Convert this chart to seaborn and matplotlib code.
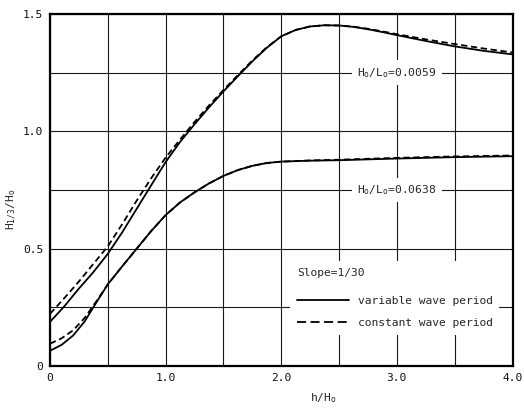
import matplotlib
matplotlib.use("Agg")
import matplotlib.pyplot as plt
from matplotlib.lines import Line2D
import seaborn as sns
import pandas as pd

# ---- data ----
h_upper = [0, .125, .25, .375, .5, .625, .75, .875, 1.0, 1.125, 1.25, 1.375, 1.5, 1.625,
           1.75, 1.875, 2.0, 2.125, 2.25, 2.375, 2.5, 2.625, 2.75, 2.875, 3.0, 3.25, 3.5, 3.75, 4.0]
var_0059 = [0.188, 0.255, 0.33, 0.40, 0.478, 0.57, 0.67, 0.77, 0.869, 0.955, 1.03, 1.102, 1.17, 1.235,
            1.298, 1.356, 1.405, 1.432, 1.447, 1.452, 1.451, 1.445, 1.435, 1.423, 1.41, 1.385, 1.362, 1.343, 1.328]
con_0059 = [0.222, 0.29, 0.36, 0.435, 0.51, 0.605, 0.705, 0.80, 0.888, 0.965, 1.04, 1.11, 1.176, 1.24,
            1.302, 1.358, 1.405, 1.432, 1.447, 1.452, 1.451, 1.446, 1.437, 1.426, 1.414, 1.392, 1.372, 1.353, 1.336]

h_lower = [0, .1, .2, .3, .4, .5, .625, .75, .875, 1.0, 1.125, 1.25, 1.375, 1.5, 1.625, 1.75,
           1.875, 2.0, 2.25, 2.5, 3.0, 3.5, 4.0]
var_0638 = [0.065, 0.09, 0.13, 0.19, 0.27, 0.348, 0.425, 0.50, 0.575, 0.643, 0.697, 0.74, 0.778, 0.81,
            0.835, 0.853, 0.865, 0.871, 0.875, 0.877, 0.884, 0.89, 0.894]
con_0638 = [0.095, 0.118, 0.152, 0.205, 0.275, 0.348, 0.425, 0.50, 0.575, 0.643, 0.697, 0.74, 0.778, 0.81,
            0.835, 0.853, 0.865, 0.871, 0.876, 0.879, 0.887, 0.893, 0.897]

x_ticks = [0, 1.0, 2.0, 3.0, 4.0]
x_tick_labels = ["0", "1.0", "2.0", "3.0", "4.0"]
y_ticks = [0, 0.5, 1.0, 1.5]
y_tick_labels = ["0", "0.5", "1.0", "1.5"]
curve_labels = ["H$_\\mathregular{o}$/L$_\\mathregular{o}$=0.0059", "H$_\\mathregular{o}$/L$_\\mathregular{o}$=0.0638"]
legend_labels = ["variable wave period", "constant wave period"]
legend_title = "Slope=1/30"

frames = []
for h, v, c, case in [(h_upper, var_0059, con_0059, "0.0059"), (h_lower, var_0638, con_0638, "0.0638")]:
    frames.append(pd.DataFrame({"h": h, "H": v, "case": case, "period": "variable"}))
    frames.append(pd.DataFrame({"h": h, "H": c, "case": case, "period": "constant"}))
df = pd.concat(frames, ignore_index=True)
df["unit"] = df["case"] + df["period"]

sns.set_style("white")
mono = "DejaVu Sans Mono"
plt.rcParams["font.family"] = [mono]
plt.rcParams["mathtext.fontset"] = "custom"
plt.rcParams["mathtext.rm"] = mono
plt.rcParams["mathtext.it"] = mono
fs = 8.1

fig = plt.figure(figsize=(5.24, 4.09), dpi=100)
ax = fig.add_axes([50/524, 1 - 366/409, 462.5/524, 352/409])

dash = (3.5, 2.0)
sns.lineplot(data=df, x="h", y="H", units="unit", style="period", estimator=None,
             color="black", linewidth=1.3, sort=False, legend=False,
             dashes={"variable": "", "constant": dash},
             style_order=["variable", "constant"], ax=ax)

ax.set_xlim(0, 4.0)
ax.set_ylim(0, 1.5)
xg = [i * 0.5 for i in range(9)]
yg = [i * 0.25 for i in range(7)]
ax.set_xticks(xg)
ax.set_yticks(yg)
ax.grid(True, color="#1a1a1a", linewidth=0.8)
ax.set_axisbelow(True)
ax.set_xticklabels([x_tick_labels[x_ticks.index(t)] if t in x_ticks else "" for t in xg])
ax.set_yticklabels([y_tick_labels[y_ticks.index(t)] if t in y_ticks else "" for t in yg])
ax.tick_params(length=0, labelsize=fs, pad=5, colors="#111111")
for s in ax.spines.values():
    s.set_color("black")
    s.set_linewidth(1.6)

ax.set_xlabel("h/H$_\\mathregular{o}$", fontsize=fs)
ax.set_ylabel("H$_\\mathregular{1/3}$/H$_\\mathregular{o}$", fontsize=fs)
ax.xaxis.set_label_coords(0.59, -0.072)
ax.yaxis.set_label_coords(-0.068, 0.446)

ax.text(3.0, 1.25, curve_labels[0], fontsize=fs, ha="center", va="center",
        bbox=dict(facecolor="white", edgecolor="none", pad=4))
ax.text(3.0, 0.75, curve_labels[1], fontsize=fs, ha="center", va="center",
        bbox=dict(facecolor="white", edgecolor="none", pad=4))

handles = [Line2D([], [], color="black", linewidth=1.3),
           Line2D([], [], color="black", linewidth=1.3, dashes=(5, 2.5))]
leg = ax.legend(handles, legend_labels, title=legend_title, loc="upper left",
                bbox_to_anchor=(0.519, 0.297), borderaxespad=0, frameon=True,
                fancybox=False, edgecolor="none", facecolor="white", framealpha=1,
                fontsize=fs, title_fontsize=fs, handlelength=4.6, handletextpad=0.8,
                labelspacing=1.1, borderpad=0.6, alignment="left")
leg._legend_box.sep = 1.55 * fs

fig.savefig("out.png", dpi=100)
